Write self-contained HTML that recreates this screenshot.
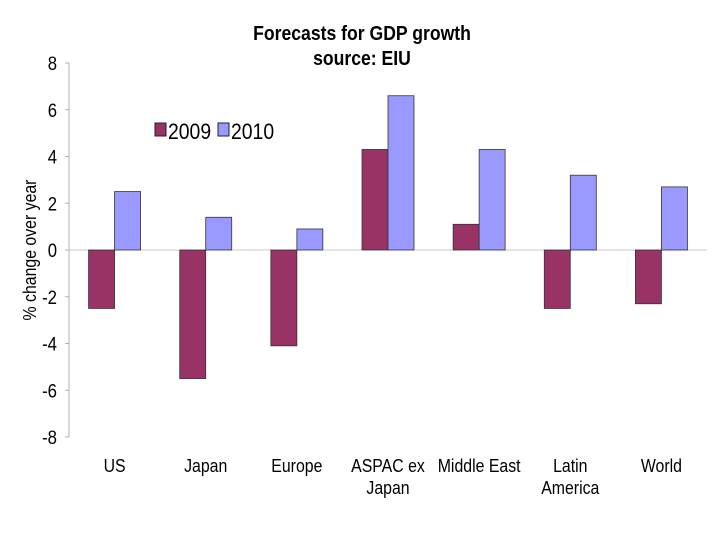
<!DOCTYPE html>
<html><head><meta charset="utf-8"><style>
body{margin:0;background:#fff;}
svg{display:block;font-family:"Liberation Sans",Arial,sans-serif;}
</style></head><body>
<svg id="c" width="720" height="540">
<text class="cond" x="362" y="40" text-anchor="middle" font-size="20" font-weight="bold">Forecasts for GDP growth</text>
<text class="cond" x="362" y="65" text-anchor="middle" font-size="20" font-weight="bold">source: EIU</text>
<text class="cond" transform="translate(36,250) rotate(-90)" text-anchor="middle" font-size="18">% change over year</text>
<g>
<rect x="155" y="123" width="11" height="13" fill="#993366" stroke="#222" stroke-width="1"/>
<text class="cond" x="168" y="139" font-size="22">2009</text>
<rect x="218" y="123" width="11" height="13" fill="#9999ff" stroke="#222" stroke-width="1"/>
<text class="cond" x="231" y="139" font-size="22">2010</text>
</g>
<g id="plot"></g>
</svg>
<script>
const categories=["US","Japan","Europe","ASPAC ex|Japan","Middle East","Latin|America","World"];
const values2009=[-2.5,-5.5,-4.1,4.3,1.1,-2.5,-2.3];
const values2010=[2.5,1.4,0.9,6.6,4.3,3.2,2.7];
const yTicks=[8,6,4,2,0,-2,-4,-6,-8];
const NS="http://www.w3.org/2000/svg";
const g=document.getElementById('plot');
const x0=69,x1=707,yTop=63,yBot=437,vMax=8,vMin=-8;
function yS(v){return yTop+(vMax-v)/(vMax-vMin)*(yBot-yTop);}
const cw=(x1-x0)/categories.length;
function xC(i){return x0+cw*(i+0.5);}
function mk(t,a){const e=document.createElementNS(NS,t);for(const k in a)e.setAttribute(k,a[k]);g.appendChild(e);return e;}
let e=mk('line',{x1:x0,x2:x1,y1:yS(0),y2:yS(0),stroke:'#c8c8c8','stroke-width':1});


e=mk('line',{x1:x0,x2:x0,y1:yTop,y2:yBot,stroke:'#b0b0b0','stroke-width':1});


yTicks.forEach(v=>{
 let t=mk('line',{x1:x0-4,x2:x0,y1:yS(v),y2:yS(v),stroke:'#b0b0b0'});
 
 
 let l=mk('text',{x:x0-12,y:yS(v)+7,'text-anchor':'end','font-size':19,'class':'cond'});
 l.textContent=v;
 
 
});
const bw=26;
categories.forEach((c,i)=>{
 [[values2009[i],'#993366',-bw,'2009'],[values2010[i],'#9999ff',0,'2010']].forEach(([v,col,off,s])=>{
  const y=Math.min(yS(v),yS(0)),h=Math.abs(yS(v)-yS(0));
  let r=mk('rect',{x:xC(i)+off,y:y,width:bw,height:h,fill:col,stroke:'#333','stroke-width':0.8});
  
  
 });
 c.split('|').forEach((ln,j)=>{
  let t=mk('text',{x:xC(i),y:472+j*22,'text-anchor':'middle','font-size':18,'class':'cond'});
  t.textContent=ln;
  
  
 });
});
document.querySelectorAll('text.cond').forEach(t=>{
 const w=t.getComputedTextLength();
 t.setAttribute('textLength',(w*0.88).toFixed(1));
 t.setAttribute('lengthAdjust','spacingAndGlyphs');
});
</script>
</body></html>
